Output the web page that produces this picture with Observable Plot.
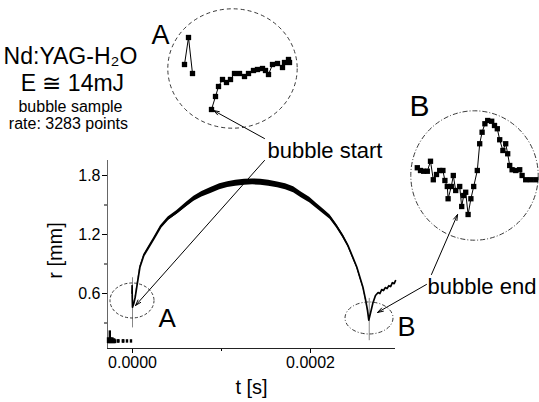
<!DOCTYPE html>
<html><head><meta charset="utf-8">
<script src="https://cdn.jsdelivr.net/npm/d3@7"></script>
<script src="https://cdn.jsdelivr.net/npm/@observablehq/plot@0.6"></script>
<style>
html,body{margin:0;padding:0;background:#fff;}
#wrap{position:relative;width:539px;height:402px;overflow:hidden;}
#wrap svg{position:absolute;}
</style></head><body><div id="wrap"></div>
<script>
const FONT = '"Liberation Sans", Arial, Helvetica, sans-serif';
const US = 1e-6;

// ---- main curve (t in µs, r in mm) ----
const curveT = [-0.6,-0.45,-0.3,0,1.5,3.0,5.4,8.3,12.7,18.3,24,31.5,40,50,60,69,78,88,98,107,116,126,135,144,153,163,172,181,190,199,207,215,222,229,236,242,247,252,256,259,262,264,265.5];
const curveR = [0.60,0.68,0.57,0.46,0.50,0.56,0.70,0.867,0.986,1.07,1.156,1.274,1.36,1.425,1.50,1.563,1.61,1.647,1.685,1.707,1.722,1.732,1.735,1.732,1.722,1.705,1.685,1.655,1.60,1.55,1.49,1.43,1.376,1.29,1.19,1.09,0.98,0.87,0.75,0.66,0.53,0.43,0.33];
const curveNoise = [0,0,0,0,0.004,0.005,0.006,0.008,0.01,0.012,0.013,0.015,0.017,0.02,0.023,0.026,0.028,0.03,0.03,0.03,0.03,0.03,0.03,0.03,0.03,0.03,0.03,0.03,0.029,0.028,0.026,0.024,0.022,0.02,0.018,0.015,0.013,0.011,0.009,0.007,0.005,0.003,0];
// rebound after collapse
const reboundT = [267.4,270,273,276,278,280,282,284,286,288,290,292,294,295.5];
const reboundR = [0.40,0.50,0.58,0.61,0.60,0.64,0.63,0.66,0.65,0.68,0.67,0.71,0.70,0.73];
// pre-trigger noise
const preT = [-27.5,-26.6,-25.5,-24.6,-23.6,-22.6,-21.6,-20.6,-19.6,-16.5,-15.7,-10.9,-10.3,-6.2,-1.7];
const preLo = [0.09,0.09,0.09,0.09,0.09,0.09,0.09,0.09,0.09,0.095,0.095,0.095,0.095,0.095,0.095];
const preHi = [0.15,0.14,0.22,0.15,0.13,0.15,0.13,0.14,0.13,0.13,0.13,0.13,0.13,0.13,0.13];
// thin grey traces at start and end
const greyT = [0, 266];
const greyLo = [0.25, 0.12];
const greyHi = [0.76, 0.55];

// ---- inset A (bubble start), t in µs from start, r in mm ----
const insetA_t = [-0.54,-0.46,-0.38,0,0.08,0.14,0.22,0.30,0.38,0.46,0.56,0.66,0.74,0.84,0.92,1.02,1.08,1.14,1.22,1.32,1.42,1.46,1.54,1.56];
const insetA_r = [0.595,0.676,0.568,0.46,0.499,0.529,0.55,0.541,0.55,0.568,0.568,0.559,0.568,0.577,0.58,0.583,0.577,0.565,0.595,0.598,0.586,0.601,0.61,0.601];
const insetA_seg = ["pre","pre","pre","post","post","post","post","post","post","post","post","post","post","post","post","post","post","post","post","post","post","post","post","post"];
// ---- inset B (bubble end), t in µs, r in mm ----
const insetB_t = [262.02,262.10,262.18,262.27,262.35,262.42,262.50,262.58,262.66,262.71,262.77,262.79,262.87,262.92,262.98,263.08,263.13,263.18,263.23,263.29,263.36,263.43,263.52,263.58,263.64,263.71,263.78,263.88,263.95,264.02,264.08,264.16,264.23,264.28,264.33,264.39,264.48,264.58,264.64,264.73,264.85,264.98];
const insetB_r = [0.487,0.476,0.473,0.473,0.513,0.439,0.460,0.476,0.476,0.436,0.412,0.363,0.412,0.456,0.396,0.412,0.332,0.376,0.389,0.300,0.363,0.412,0.476,0.583,0.629,0.663,0.676,0.673,0.656,0.643,0.599,0.556,0.583,0.543,0.496,0.479,0.476,0.479,0.456,0.439,0.439,0.439];

// ---- tick labels ----
const xTicks = [0, 0.0002];
const xMinor = [0.0001];
const yTicks = [0.6, 1.2, 1.8];
const yMinor = [0.3, 0.9, 1.5];

// ---- tables ----
const curve = curveT.map((t, i) => ({t: t * US, r: curveR[i], n: curveNoise[i]}))
  .concat(reboundT.map((t, i) => ({t: t * US, r: reboundR[i], n: 0})));
const pre = preT.map((t, i) => ({t: t * US, lo: preLo[i], hi: preHi[i]}));
const grey = greyT.map((t, i) => ({t: t * US, lo: greyLo[i], hi: greyHi[i]}));
const insA = insetA_t.map((t, i) => ({t, r: insetA_r[i], s: insetA_seg[i]}));
const insB = insetB_t.map((t, i) => ({t, r: insetB_r[i]}));

// annotations (data units of the main chart: t in µs, r in mm)
const arrows = [
  {t1: 148.3, r1: 1.953, t2: 3.4, r2: 0.478},
  {t1: 148.3, r1: 2.176, t2: 91.0, r2: 2.461},
  {t1: 335.9, r1: 0.793, t2: 365.2, r2: 1.403},
  {t1: 330.3, r1: 0.692, t2: 275.3, r2: 0.407}
];
const startLabels = [
  {t: 151.7, r: 1.983, text: "bubble start", size: 22},
  {t: 331.5, r: 0.60, text: "bubble end", size: 22},
  {t: 29.2, r: 0.264, text: "A", size: 26},
  {t: 297.8, r: 0.163, text: "B", size: 27},
  {t: 21.3, r: 3.142, text: "A", size: 27},
  {t: 311.2, r: 2.41, text: "B", size: 30}
];
const blockLabels = [
  {t: -69.7, r: 2.939, text: "Nd:YAG-H\u2082O", size: 23},
  {t: -67.5, r: 2.664, text: "E \u2245 14mJ", size: 23},
  {t: -69.7, r: 2.441, text: "bubble sample", size: 16},
  {t: -72.0, r: 2.278, text: "rate: 3283 points", size: 16}
];

const SVGNS = "http://www.w3.org/2000/svg";
function ellipseAt(t, r, rx, ry, dash) {
  return (index, scales) => {
    const e = document.createElementNS(SVGNS, "ellipse");
    e.setAttribute("cx", scales.x(t));
    e.setAttribute("cy", scales.y(r));
    e.setAttribute("rx", rx); e.setAttribute("ry", ry);
    e.setAttribute("fill", "none"); e.setAttribute("stroke", "#222");
    e.setAttribute("stroke-width", 0.9); e.setAttribute("stroke-dasharray", dash);
    return e;
  };
}
function frameEllipse(dash) {
  return (index, scales, values, dim) => {
    const e = document.createElementNS(SVGNS, "ellipse");
    e.setAttribute("cx", dim.width / 2); e.setAttribute("cy", dim.height / 2);
    e.setAttribute("rx", dim.width / 2 - 0.8); e.setAttribute("ry", dim.height / 2 - 0.8);
    e.setAttribute("fill", "none"); e.setAttribute("stroke", "#222");
    e.setAttribute("stroke-width", 0.9); e.setAttribute("stroke-dasharray", dash);
    return e;
  };
}

const main = Plot.plot({
  width: 539, height: 402,
  marginLeft: 107, marginRight: 144, marginTop: 160, marginBottom: 54,
  style: {background: "transparent", fontFamily: FONT, fontSize: "16px", overflow: "visible", color: "black"},
  x: {domain: [-28.09 * US, 295.5 * US], axis: null},
  y: {domain: [0.0407, 1.9526], axis: null},
  marks: [
    Plot.axisX({ticks: xTicks, tickFormat: d3.format(".4f"), tickSize: 5, tickPadding: 3, fontSize: 16, label: null}),
    Plot.axisX({ticks: xMinor, tickFormat: () => "", tickSize: 3, label: null}),
    Plot.axisY({ticks: yTicks, tickFormat: d3.format(".1f"), tickSize: 5, tickPadding: 2, fontSize: 16, label: null}),
    Plot.axisY({ticks: yMinor, tickFormat: () => "", tickSize: 3, label: null}),
    Plot.ruleX([-28.09 * US], {stroke: "#666"}),
    Plot.ruleY([0.0407], {stroke: "#222"}),
    Plot.ruleX(grey, {x: "t", y1: "lo", y2: "hi", stroke: "#888", strokeWidth: 1}),
    Plot.ruleX(pre, {x: "t", y1: "lo", y2: "hi", stroke: "black", strokeWidth: 2.4}),
    Plot.areaY(curve, {x: "t", y1: d => d.r - d.n, y2: d => d.r + d.n, fill: "black"}),
    Plot.line(curve, {x: "t", y: "r", stroke: "black", strokeWidth: 1.7}),
    ellipseAt(0, 0.524, 22, 17.5, "3,2"),
    ellipseAt(266.3 * US, 0.346, 24, 16, "4,2,1,2"),
    Plot.arrow(arrows, {x1: d => d.t1 * US, y1: "r1", x2: d => d.t2 * US, y2: "r2", stroke: "black", strokeWidth: 1, headLength: 9, headAngle: 35}),
    Plot.text(startLabels, {x: d => d.t * US, y: "r", text: "text", fontSize: "size", textAnchor: "start", lineAnchor: "bottom", fill: "black"}),
    Plot.text(blockLabels, {x: d => d.t * US, y: "r", text: "text", fontSize: "size", textAnchor: "middle", lineAnchor: "bottom", fill: "black"}),
    Plot.text(["t [s]"], {frameAnchor: "bottom", text: d => d, dy: 45, lineAnchor: "bottom", fontSize: 20, fill: "black"}),
    Plot.text(["r [mm]"], {frameAnchor: "left", text: d => d, dx: -52, dy: -4, rotate: -90, textAnchor: "middle", lineAnchor: "middle", fontSize: 20, fill: "black"})
  ]
});
main.style.left = "0px"; main.style.top = "0px";

const insetA = Plot.plot({
  width: 131, height: 121, margin: 0,
  style: {background: "transparent", overflow: "visible"},
  x: {domain: [-0.88, 1.74], axis: null},
  y: {domain: [0.40, 0.763], axis: null},
  marks: [
    frameEllipse("4,3"),
    Plot.line(insA, {x: "t", y: "r", z: "s", stroke: "black", strokeWidth: 1}),
    Plot.dot(insA, {x: "t", y: "r", symbol: "square", r: 3, fill: "black", stroke: "none"})
  ]
});
insetA.style.left = "167px"; insetA.style.top = "8px";

const insetB = Plot.plot({
  width: 129, height: 131, margin: 0,
  style: {background: "transparent", overflow: "visible"},
  x: {domain: [261.85, 265.075], axis: null},
  y: {domain: [0.192, 0.716], axis: null},
  marks: [
    frameEllipse("5,2,1,2"),
    Plot.line(insB, {x: "t", y: "r", stroke: "black", strokeWidth: 1}),
    Plot.dot(insB, {x: "t", y: "r", symbol: "square", r: 3, fill: "black", stroke: "none"})
  ]
});
insetB.style.left = "410px"; insetB.style.top = "110px";

const wrap = document.getElementById("wrap");
wrap.appendChild(main);
wrap.appendChild(insetA);
wrap.appendChild(insetB);
</script></body></html>
